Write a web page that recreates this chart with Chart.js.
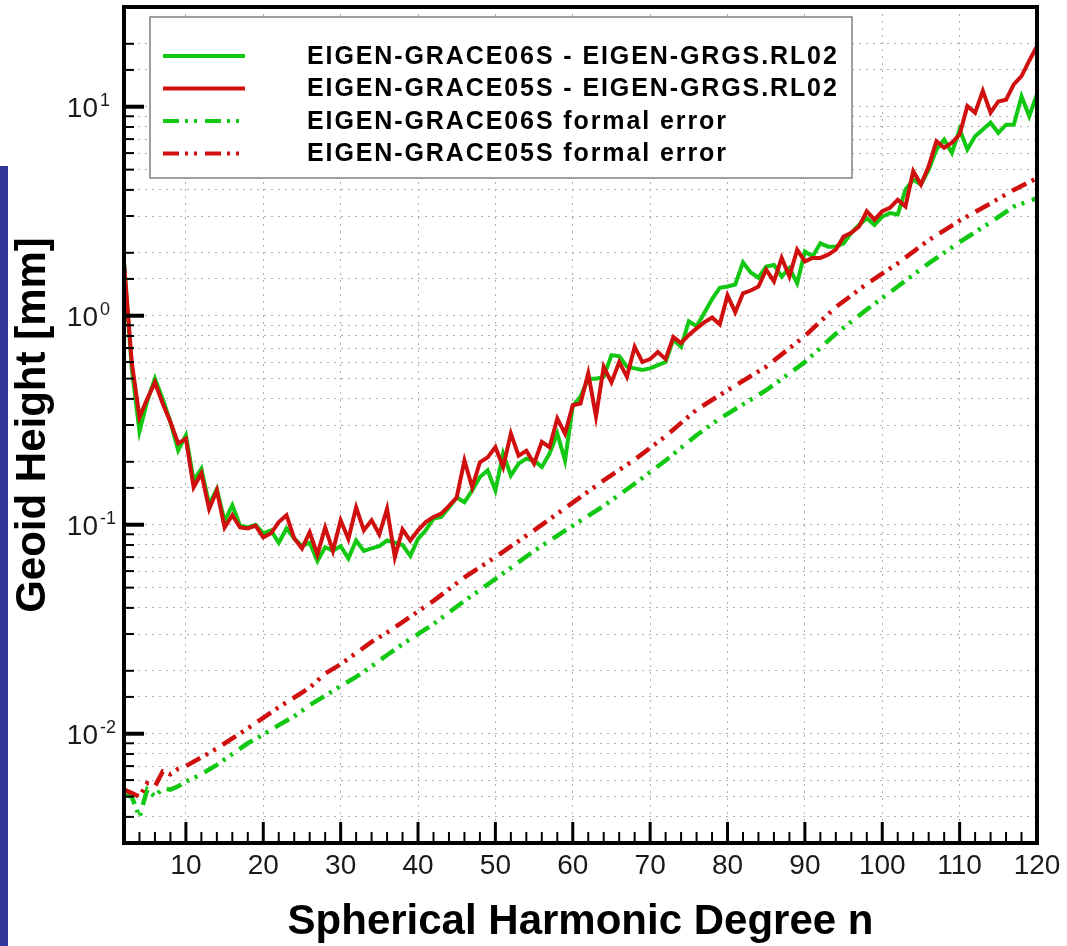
<!DOCTYPE html>
<html>
<head>
<meta charset="utf-8">
<script src="https://cdn.jsdelivr.net/npm/chart.js@4.4.1/dist/chart.umd.min.js"></script>
<style>
  html, body { margin: 0; padding: 0; background: #fff; }
  #wrap { position: relative; width: 1067px; height: 946px; }
  #strip { position: absolute; left: 0; top: 166px; width: 8px; height: 780px; background: #32359a; }
  canvas { position: absolute; left: 0; top: 0; }
</style>
</head>
<body>
<div id="wrap">
  <canvas id="chart" width="1067" height="946"></canvas>
  <div id="strip"></div>
</div>
<script>
const FONT = '"Liberation Sans", Arial, Helvetica, sans-serif';

// spherical harmonic degrees 2..120
const degrees = Array.from({ length: 119 }, (_, i) => i + 2);

// geoid height differences per degree [mm]
const diffGrace06 = [
  1.8, 0.56, 0.28, 0.39, 0.50, 0.40, 0.31, 0.227, 0.268, 0.163,
  0.185, 0.125, 0.148, 0.104, 0.124, 0.099, 0.097, 0.100, 0.091, 0.094,
  0.082, 0.096, 0.086, 0.079, 0.082, 0.067, 0.078, 0.075, 0.079, 0.069,
  0.084, 0.075, 0.077, 0.079, 0.084, 0.082, 0.080, 0.071, 0.0855, 0.094,
  0.107, 0.109, 0.121, 0.135, 0.128, 0.146, 0.169, 0.182, 0.146, 0.219,
  0.172, 0.196, 0.207, 0.203, 0.189, 0.219, 0.273, 0.203, 0.37, 0.41,
  0.50, 0.50, 0.51, 0.648, 0.64, 0.57, 0.56, 0.55, 0.56, 0.58,
  0.60, 0.77, 0.71, 0.94, 0.89, 1.03, 1.20, 1.36, 1.38, 1.41,
  1.80, 1.61, 1.52, 1.72, 1.75, 1.54, 1.69, 1.43, 2.03, 1.92,
  2.22, 2.14, 2.14, 2.22, 2.49, 2.72, 2.93, 2.72, 2.98, 3.10,
  3.05, 4.01, 4.48, 4.24, 5.0, 6.24, 6.97, 6.01, 7.78, 6.24,
  7.22, 7.78, 8.38, 7.5, 8.2, 8.2, 11.2, 9.0, 11.5
];

const diffGrace05 = [
  1.8, 0.60, 0.327, 0.40, 0.48, 0.38, 0.31, 0.245, 0.258, 0.151,
  0.176, 0.119, 0.146, 0.097, 0.111, 0.097, 0.096, 0.099, 0.087, 0.091,
  0.103, 0.111, 0.086, 0.077, 0.092, 0.072, 0.097, 0.075, 0.105, 0.0855,
  0.121, 0.094, 0.105, 0.090, 0.119, 0.070, 0.095, 0.084, 0.094, 0.103,
  0.109, 0.113, 0.123, 0.135, 0.203, 0.151, 0.199, 0.210, 0.235, 0.189,
  0.273, 0.214, 0.226, 0.196, 0.249, 0.235, 0.322, 0.273, 0.373, 0.38,
  0.53, 0.33, 0.57, 0.48, 0.60, 0.51, 0.71, 0.60, 0.62, 0.67,
  0.62, 0.79, 0.74, 0.81, 0.87, 0.93, 0.98, 0.91, 1.25, 1.04,
  1.28, 1.32, 1.38, 1.66, 1.46, 1.89, 1.54, 2.07, 1.82, 1.89,
  1.89, 1.96, 2.07, 2.39, 2.49, 2.67, 3.16, 2.88, 3.16, 3.28,
  3.59, 3.33, 4.91, 4.24, 5.19, 6.84, 6.36, 6.72, 7.36, 10.07,
  9.36, 11.9, 9.36, 10.6, 10.8, 12.8, 14.0, 16.6, 19.5
];

// formal errors, read at selected degrees
const formalDegrees06 = [2, 3, 4, 5, 6, 7, 8, 9, 10, 12, 14, 16, 18, 20, 22, 24, 26, 28, 30, 32, 34, 36, 38, 42, 46, 50, 55, 60, 64, 68, 72, 76, 79, 85, 90, 94, 98, 102, 106, 110, 114, 117, 120];
const formalGrace06 = [0.0051, 0.0050, 0.0040, 0.0054, 0.0050, 0.0055, 0.0054, 0.0056, 0.0059, 0.0064, 0.0071, 0.0080, 0.0090, 0.0099, 0.0110, 0.0121, 0.0137, 0.0152, 0.0169, 0.0187, 0.0210, 0.0238, 0.0268, 0.0335, 0.0432, 0.055, 0.075, 0.099, 0.123, 0.157, 0.203, 0.268, 0.322, 0.44, 0.60, 0.82, 1.07, 1.38, 1.78, 2.25, 2.80, 3.33, 3.65];

const formalDegrees05 = [2, 3, 4, 5, 6, 7, 8, 9, 10, 12, 14, 16, 18, 20, 22, 24, 26, 28, 30, 32, 34, 36, 38, 42, 46, 50, 55, 59, 64, 68, 72, 76, 80, 85, 90, 94, 98, 102, 106, 110, 114, 117, 120];
const formalGrace05 = [0.0054, 0.0052, 0.0050, 0.0058, 0.0056, 0.0066, 0.0064, 0.0068, 0.0070, 0.0077, 0.0085, 0.0095, 0.0106, 0.0119, 0.0134, 0.0149, 0.0166, 0.0194, 0.0215, 0.0243, 0.0275, 0.0305, 0.0342, 0.0432, 0.0560, 0.0700, 0.094, 0.120, 0.163, 0.205, 0.265, 0.355, 0.440, 0.57, 0.80, 1.10, 1.42, 1.78, 2.30, 2.85, 3.45, 4.0, 4.55];

const xTickValues = [10, 20, 30, 40, 50, 60, 70, 80, 90, 100, 110, 120];
const yDecades = [0.01, 0.1, 1, 10];

const seriesLabels = [
  'EIGEN-GRACE06S - EIGEN-GRGS.RL02',
  'EIGEN-GRACE05S - EIGEN-GRGS.RL02',
  'EIGEN-GRACE06S formal error',
  'EIGEN-GRACE05S formal error'
];

const GREEN = '#12c812';
const RED = '#d00f0f';
const DASHDOT = [16, 6, 3, 6, 3, 8];
const GRID = '#b0b0b0';

const toPoints = (xs, ys) => xs.map((x, i) => ({ x, y: ys[i] }));

// axes ticks, frame, decade labels and the boxed legend
const framePlugin = {
  id: 'frame',
  afterDraw(chart) {
    const { ctx, chartArea: a, scales: { x, y } } = chart;
    ctx.save();
    ctx.strokeStyle = '#000';

    // inward ticks on the bottom axis
    for (let n = 4; n < 120; n += 2) {
      const px = x.getPixelForValue(n);
      const major = n % 10 === 0;
      ctx.lineWidth = major ? 3 : 2;
      ctx.beginPath();
      ctx.moveTo(px, a.bottom);
      ctx.lineTo(px, a.bottom - (major ? 21 : 11));
      ctx.stroke();
    }

    // inward ticks on the left axis
    y.ticks.forEach(t => {
      const py = y.getPixelForValue(t.value);
      const e = Math.log10(t.value);
      const major = Math.abs(e - Math.round(e)) < 1e-6;
      ctx.lineWidth = major ? 4 : 2;
      ctx.beginPath();
      ctx.moveTo(a.left, py);
      ctx.lineTo(a.left + (major ? 20 : 10), py);
      ctx.stroke();
    });

    ctx.lineWidth = 4;
    ctx.strokeRect(a.left, a.top, a.right - a.left, a.bottom - a.top);

    // decade labels 10^n
    yDecades.forEach(v => {
      const py = y.getPixelForValue(v);
      const exp = Math.round(Math.log10(v));
      ctx.fillStyle = '#1a1a1a';
      ctx.font = '28px ' + FONT;
      ctx.textAlign = 'right';
      ctx.textBaseline = 'alphabetic';
      ctx.fillText('10', 98, py + 10);
      ctx.font = '18px ' + FONT;
      ctx.textAlign = 'left';
      ctx.fillText(String(exp), 100, py - 1);
    });

    // legend
    const box = { l: 150, t: 17, r: 852, b: 178 };
    ctx.fillStyle = '#fff';
    ctx.fillRect(box.l, box.t, box.r - box.l, box.b - box.t);
    ctx.strokeStyle = '#808080';
    ctx.lineWidth = 1.5;
    ctx.strokeRect(box.l, box.t, box.r - box.l, box.b - box.t);

    const rows = [56, 88.5, 121, 153.5];
    chart.data.datasets.forEach((ds, i) => {
      const ry = rows[i];
      ctx.strokeStyle = ds.borderColor;
      ctx.lineWidth = 4;
      ctx.setLineDash(ds.borderDash || []);
      ctx.beginPath();
      ctx.moveTo(163, ry);
      ctx.lineTo(245, ry);
      ctx.stroke();
      ctx.setLineDash([]);
      ctx.fillStyle = '#000';
      ctx.font = 'bold 25px ' + FONT;
      ctx.textAlign = 'left';
      ctx.textBaseline = 'middle';
      ctx.letterSpacing = '1.9px';
      ctx.fillText(ds.label, 307, ry + 1);
      ctx.letterSpacing = '0px';
    });

    ctx.restore();
  }
};

new Chart(document.getElementById('chart'), {
  type: 'line',
  data: {
    datasets: [
      {
        label: seriesLabels[0],
        data: toPoints(degrees, diffGrace06),
        borderColor: GREEN,
        borderWidth: 4,
        order: 2
      },
      {
        label: seriesLabels[1],
        data: toPoints(degrees, diffGrace05),
        borderColor: RED,
        borderWidth: 4,
        order: 1
      },
      {
        label: seriesLabels[2],
        data: toPoints(formalDegrees06, formalGrace06),
        borderColor: GREEN,
        borderWidth: 4.5,
        borderDash: DASHDOT,
        order: 4
      },
      {
        label: seriesLabels[3],
        data: toPoints(formalDegrees05, formalGrace05),
        borderColor: RED,
        borderWidth: 4.5,
        borderDash: DASHDOT,
        order: 3
      }
    ]
  },
  options: {
    responsive: false,
    animation: false,
    devicePixelRatio: 1,
    layout: { padding: { top: 7, right: 30, bottom: 0, left: 0 } },
    elements: {
      point: { radius: 0 },
      line: { tension: 0, fill: false }
    },
    plugins: {
      legend: { display: false },
      tooltip: { enabled: false }
    },
    scales: {
      x: {
        type: 'linear',
        min: 2,
        max: 120,
        afterBuildTicks(scale) {
          scale.ticks = xTickValues.map(v => ({ value: v }));
        },
        afterFit(scale) {
          scale.height = 103;
          scale.paddingLeft = 0;
          scale.paddingRight = 0;
        },
        ticks: {
          color: '#1a1a1a',
          padding: 6,
          maxRotation: 0,
          font: { family: FONT, size: 28 }
        },
        grid: {
          color: GRID,
          lineWidth: 1,
          drawTicks: false
        },
        border: { display: false, dash: [2, 5] },
        title: {
          display: true,
          text: 'Spherical Harmonic Degree n',
          color: '#000',
          font: { family: FONT, size: 42, weight: 'bold', lineHeight: 1 },
          padding: { top: 0, bottom: 3 }
        }
      },
      y: {
        type: 'logarithmic',
        min: 0.003,
        max: 30,
        afterFit(scale) {
          scale.width = 124;
          scale.paddingTop = 0;
          scale.paddingBottom = 0;
        },
        ticks: { display: false },
        grid: {
          color: GRID,
          lineWidth: 1,
          drawTicks: false
        },
        border: { display: false, dash: [2, 5] },
        title: {
          display: true,
          text: 'Geoid Height [mm]',
          color: '#000',
          font: { family: FONT, size: 42, weight: 'bold', lineHeight: 1.2 },
          padding: { top: 8 }
        }
      }
    }
  },
  plugins: [framePlugin]
});
</script>
</body>
</html>
